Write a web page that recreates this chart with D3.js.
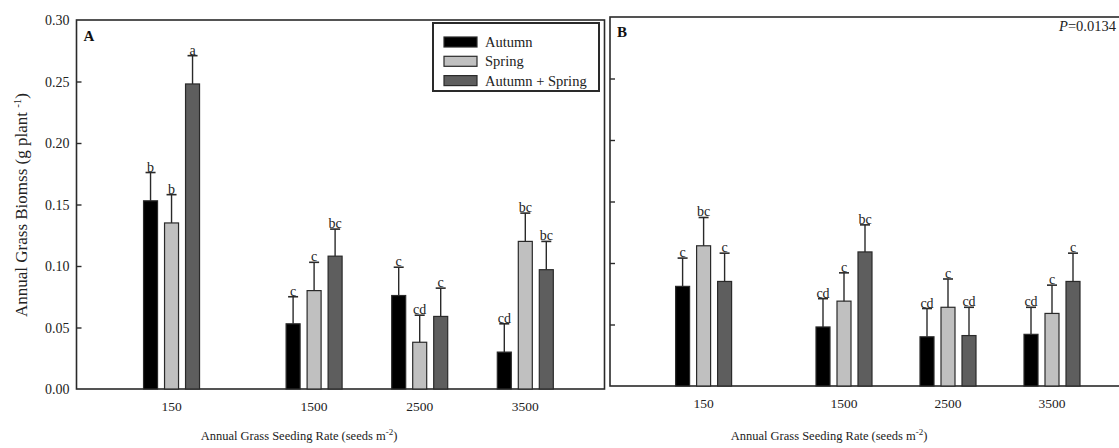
<!DOCTYPE html>
<html>
<head>
<meta charset="utf-8">
<script src="https://cdn.jsdelivr.net/npm/d3@7"></script>
<style>
  html, body { margin: 0; padding: 0; background: #fff; }
  svg { display: block; font-family: "Liberation Serif", "Times New Roman", serif; }
</style>
</head>
<body>
<svg id="chart" width="1119" height="448"></svg>
<script>
// Seeding rates (x categories) and timing treatments (series)
const rates = [150, 1500, 2500, 3500];
const series = ["Autumn", "Spring", "Autumn + Spring"];
const seriesFill = ["#000000", "#c0c0c0", "#5e5e5e"];
const yTicks = [0, 0.05, 0.10, 0.15, 0.20, 0.25, 0.30];

// Panel A: mean biomass, standard error, mean separation letters
const aAutumn = [0.153, 0.053, 0.076, 0.030];
const aSpring = [0.135, 0.080, 0.038, 0.120];
const aBoth   = [0.248, 0.108, 0.059, 0.097];
const aAutumnSE = [0.023, 0.022, 0.023, 0.023];
const aSpringSE = [0.023, 0.023, 0.022, 0.023];
const aBothSE   = [0.023, 0.022, 0.023, 0.023];
const aAutumnLetters = ["b", "c", "c", "cd"];
const aSpringLetters = ["b", "c", "cd", "bc"];
const aBothLetters   = ["a", "bc", "c", "bc"];

// Panel B
const bAutumn = [0.081, 0.048, 0.040, 0.042];
const bSpring = [0.114, 0.069, 0.064, 0.059];
const bBoth   = [0.085, 0.109, 0.041, 0.085];
const bAutumnSE = [0.023, 0.023, 0.023, 0.022];
const bSpringSE = [0.023, 0.023, 0.023, 0.023];
const bBothSE   = [0.023, 0.022, 0.023, 0.023];
const bAutumnLetters = ["c", "cd", "cd", "cd"];
const bSpringLetters = ["bc", "c", "c", "c"];
const bBothLetters   = ["c", "bc", "cd", "c"];

function rows(means, ses, letters) {
  const out = [];
  rates.forEach((r, i) => {
    series.forEach((s, j) => {
      out.push({ rate: r, series: s, idx: j, value: means[j][i], se: ses[j][i], letter: letters[j][i] });
    });
  });
  return out;
}

const panelA = rows([aAutumn, aSpring, aBoth], [aAutumnSE, aSpringSE, aBothSE],
                    [aAutumnLetters, aSpringLetters, aBothLetters]);
const panelB = rows([bAutumn, bSpring, bBoth], [bAutumnSE, bSpringSE, bBothSE],
                    [bAutumnLetters, bSpringLetters, bBothLetters]);

const svg = d3.select("#chart");
const ink = "#2a2a2a";

function drawPanel(data, box, opts) {
  const g = svg.append("g");
  const x = d3.scaleLinear().domain([-750, 4250]).range([box.left, box.right]);
  const y = d3.scaleLinear().domain([0, 0.30]).range([box.bottom, box.top]);
  const inner = d3.scaleBand().domain(series).range([-28, 28]).paddingInner(1 / 3);

  // frame
  g.append("rect")
    .attr("x", box.left).attr("y", box.top)
    .attr("width", box.right - box.left).attr("height", box.bottom - box.top)
    .attr("fill", "none").attr("stroke", ink).attr("stroke-width", 1.6);

  // inward y ticks
  const yAxis = d3.axisRight(y).tickValues(yTicks.slice(1, -1)).tickSize(5).tickFormat("");
  const ya = g.append("g").attr("transform", `translate(${box.left},0)`).call(yAxis);
  ya.select(".domain").remove();
  ya.selectAll("line").attr("stroke", ink).attr("stroke-width", 1.4);

  if (opts.yLabels) {
    g.selectAll("text.ytick").data(yTicks).join("text")
      .attr("class", "ytick")
      .attr("x", box.left - 7).attr("y", d => y(d) + 5)
      .attr("text-anchor", "end").attr("font-size", 14).attr("fill", "#222")
      .text(d => d3.format(".2f")(d));
  }

  // x tick labels
  g.selectAll("text.xtick").data(rates).join("text")
    .attr("class", "xtick")
    .attr("x", d => x(d)).attr("y", box.bottom + 22)
    .attr("text-anchor", "middle").attr("font-size", 13.5).attr("fill", "#222")
    .text(d => d);

  // bars
  const cx = d => x(d.rate) + inner(d.series) + inner.bandwidth() / 2;
  g.selectAll("rect.bar").data(data).join("rect")
    .attr("class", "bar")
    .attr("x", d => x(d.rate) + inner(d.series))
    .attr("y", d => y(d.value))
    .attr("width", inner.bandwidth())
    .attr("height", d => y(0) - y(d.value))
    .attr("fill", d => seriesFill[d.idx])
    .attr("stroke", ink).attr("stroke-width", 1.2);

  // error bars (upper side only)
  g.selectAll("line.err").data(data).join("line")
    .attr("class", "err")
    .attr("x1", cx).attr("x2", cx)
    .attr("y1", d => y(d.value)).attr("y2", d => y(d.value + d.se))
    .attr("stroke", ink).attr("stroke-width", 1.4);
  g.selectAll("line.cap").data(data).join("line")
    .attr("class", "cap")
    .attr("x1", d => cx(d) - 5).attr("x2", d => cx(d) + 5)
    .attr("y1", d => y(d.value + d.se)).attr("y2", d => y(d.value + d.se))
    .attr("stroke", ink).attr("stroke-width", 1.6);

  // significance letters
  g.selectAll("text.sig").data(data).join("text")
    .attr("class", "sig")
    .attr("x", cx).attr("y", d => y(d.value + d.se) - 1)
    .attr("text-anchor", "middle").attr("font-size", 14).attr("fill", "#222")
    .text(d => d.letter);

  // x axis title
  const xt = g.append("text")
    .attr("x", opts.xTitleX).attr("y", 440)
    .attr("text-anchor", "middle").attr("font-size", 12.5).attr("fill", "#222");
  xt.append("tspan").text("Annual Grass Seeding Rate (seeds m");
  xt.append("tspan").attr("dy", -5).attr("font-size", 9).text("-2");
  xt.append("tspan").attr("dy", 5).text(")");

  // panel letter
  g.append("text")
    .attr("x", box.left + 7).attr("y", box.top + (opts.letterDy))
    .attr("font-size", 15).attr("font-weight", "bold").attr("fill", "#111")
    .text(opts.letter);

  return { x, y, g };
}

const A = drawPanel(panelA, { left: 76.5, right: 604.5, top: 20, bottom: 389 },
  { yLabels: true, xTitleX: 299, letter: "A", letterDy: 21 });
const B = drawPanel(panelB, { left: 610, right: 1130, top: 17, bottom: 386 },
  { yLabels: false, xTitleX: 829, letter: "B", letterDy: 20 });

// P value in panel B
const pv = svg.append("text")
  .attr("x", 1116).attr("y", 31)
  .attr("text-anchor", "end").attr("font-size", 14.5).attr("fill", "#222");
pv.append("tspan").attr("font-style", "italic").text("P");
pv.append("tspan").text("=0.0134");

// y axis title
const yt = svg.append("text")
  .attr("transform", "translate(27,205) rotate(-90)")
  .attr("text-anchor", "middle").attr("font-size", 17).attr("fill", "#222");
yt.append("tspan").text("Annual Grass Biomss (g plant ");
yt.append("tspan").attr("dy", -6).attr("font-size", 11).text("-1");
yt.append("tspan").attr("dy", 6).text(")");

// legend
const legend = svg.append("g");
legend.append("rect")
  .attr("x", 433).attr("y", 23).attr("width", 166).attr("height", 68)
  .attr("fill", "#fff").attr("stroke", ink).attr("stroke-width", 2);
const li = legend.selectAll("g.item").data(series).join("g")
  .attr("class", "item")
  .attr("transform", (d, i) => `translate(444,${37 + i * 19.3})`);
li.append("rect")
  .attr("width", 33).attr("height", 10)
  .attr("fill", (d, i) => seriesFill[i]).attr("stroke", ink).attr("stroke-width", 1.2);
li.append("text")
  .attr("x", 41).attr("y", 10).attr("font-size", 14.5).attr("fill", "#222")
  .text(d => d);
</script>
</body>
</html>
